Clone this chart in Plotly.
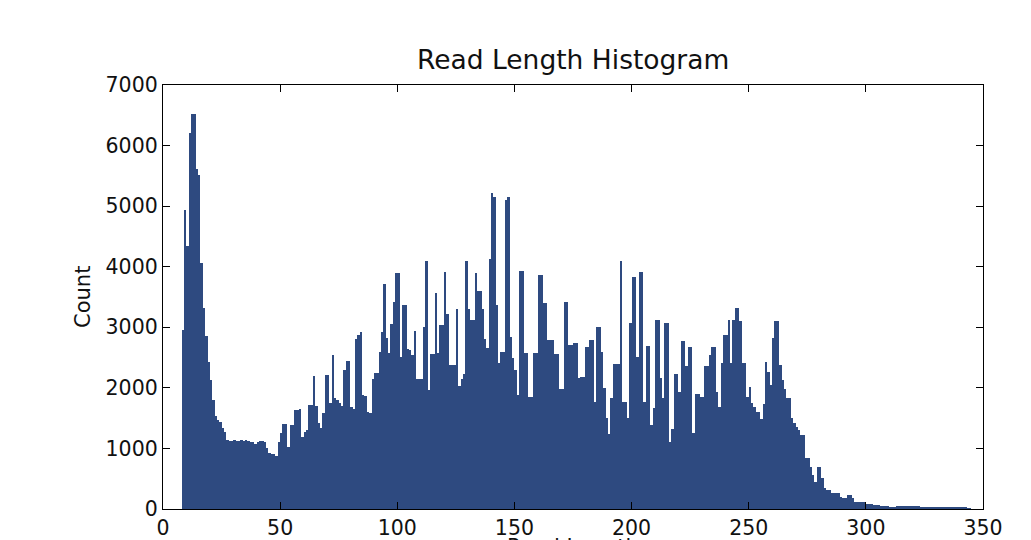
import plotly.graph_objects as go

# Histogram counts per read length, starting at length 8 (bin width 1)
counts = [
    2955, 4940, 4350, 6200, 6520, 6520, 5620, 5515, 4057, 3314,
    2857, 2433, 2130, 1800, 1536, 1470, 1443, 1333, 1278, 1140,
    1130, 1120, 1140, 1130, 1130, 1140, 1130, 1140, 1120, 1110,
    1100, 1080, 1100, 1130, 1130, 1100, 1000, 920, 900, 900,
    880, 1100, 1250, 1400, 1400, 1030, 1390, 1390, 1630, 1630,
    1646, 1195, 1277, 1300, 1717, 1720, 2200, 1701, 1426, 1332,
    1591, 2213, 2213, 1756, 2543, 1828, 1800, 1756, 1700, 2295,
    2449, 2449, 1690, 1650, 2802, 2880, 2928, 1883, 1866, 1600,
    1591, 2141, 2251, 2251, 2600, 2928, 3715, 2818, 2581, 3055,
    3423, 3900, 3900, 2515, 3368, 3368, 2637, 2625, 2543, 2945,
    2141, 2141, 2141, 3000, 4100, 1965, 2559, 2559, 3561, 2570,
    3038, 3038, 3919, 3220, 2378, 2378, 2378, 3297, 2031, 2150,
    2229, 4100, 3300, 3121, 3121, 3891, 3605, 3605, 3300, 2800,
    2653, 4122, 5220, 5150, 3368, 2405, 2598, 2598, 5100, 5146,
    2846, 2488, 2300, 1883, 3935, 3935, 2581, 2581, 1844, 1844,
    2581, 2581, 3864, 3864, 3407, 3407, 2791, 2791, 2791, 2559,
    2559, 1976, 1976, 3423, 3423, 2708, 2708, 2736, 2736, 2158,
    2174, 2174, 2670, 2670, 2791, 2791, 1773, 3011, 3011, 2598,
    2000, 1497, 1239, 1828, 2389, 2389, 2400, 4100, 1772, 1772,
    1497, 3065, 3825, 3825, 2504, 3907, 3907, 1772, 2691, 2691,
    1387, 1662, 3120, 3120, 2157, 1827, 3076, 3076, 1112, 1315,
    2229, 2229, 1937, 2779, 2779, 2361, 2680, 2680, 1249, 1899,
    1899, 1855, 1855, 2361, 2361, 2543, 2669, 2669, 1937, 1690,
    2405, 2873, 2873, 3120, 2405, 3120, 3313, 3313, 3109, 2416,
    2416, 1855, 2009, 1756, 1690, 1607, 1607, 1480, 1734, 2432,
    2267, 2047, 2818, 3104, 3104, 2377, 2130, 1976, 1828, 1828,
    1497, 1426, 1360, 1300, 1222, 1222, 837, 837, 700, 562,
    452, 700, 700, 507, 342, 314, 314, 259, 259, 259,
    259, 204, 177, 177, 232, 232, 177, 122, 122, 122,
    116, 116, 83, 83, 83, 66, 66, 66, 50, 50,
    50, 50, 39, 39, 39, 45, 45, 45, 45, 45,
    45, 45, 45, 45, 45, 25, 25, 25, 25, 25,
    25, 25, 25, 25, 25, 25, 25, 18, 18, 18,
    18, 18, 18, 18, 18, 10, 10,
]
first_length = 8
lengths = list(range(first_length, first_length + len(counts)))

x_ticks = [0, 50, 100, 150, 200, 250, 300, 350]
y_ticks = [0, 1000, 2000, 3000, 4000, 5000, 6000, 7000]

title_text = "Read Length Histogram"
x_label = "Read Length"
y_label = "Count"

BAR = "#2e4a80"
FONT = "DejaVu Sans"

fig = go.Figure(
    go.Bar(
        x=lengths, y=counts, width=1, offset=0,
        marker=dict(color=BAR, line=dict(width=0)),
        hoverinfo="x+y",
    )
)

axis_common = dict(
    showgrid=False, zeroline=False, automargin=False,
    showline=True, linecolor="black", linewidth=1.3, mirror="allticks",
    ticks="inside", ticklen=7, tickwidth=1, tickcolor="black",
    tickfont=dict(family=FONT, size=20.5, color="#111111"),
)

fig.update_layout(
    width=1023, height=532,
    margin=dict(l=155, r=48, t=77, b=31),
    paper_bgcolor="white", plot_bgcolor="white",
    bargap=0, showlegend=False,
    xaxis=dict(range=[0, 350], tickvals=x_ticks, **axis_common),
    yaxis=dict(range=[0, 7000], tickvals=y_ticks,
               ticktext=[str(v) for v in y_ticks], **axis_common),
    annotations=[
        dict(text=title_text, x=0.5, y=1, xref="paper", yref="paper",
             xanchor="center", yanchor="bottom", yshift=8, showarrow=False,
             font=dict(family=FONT, size=26.5, color="#111111")),
        dict(text=x_label, x=0.5, y=0, xref="paper", yref="paper",
             xanchor="center", yanchor="top", yshift=-24, showarrow=False,
             font=dict(family=FONT, size=21, color="#111111")),
        dict(text=y_label, x=0, y=0.5, xref="paper", yref="paper",
             xanchor="center", yanchor="middle", xshift=-80, textangle=-90,
             showarrow=False,
             font=dict(family=FONT, size=21, color="#111111")),
    ],
)

fig.write_html("out.html")
